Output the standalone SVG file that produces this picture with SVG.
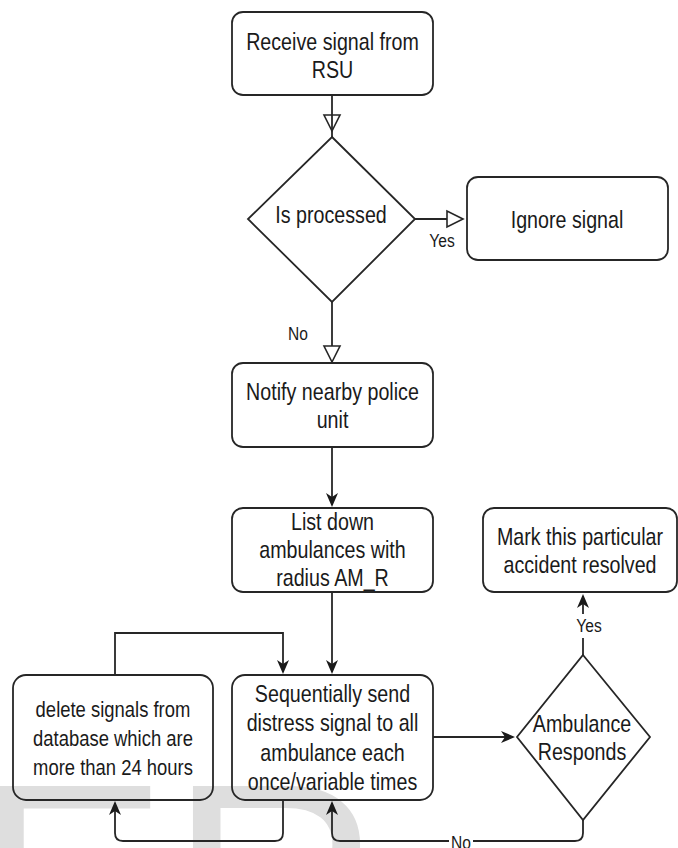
<svg xmlns="http://www.w3.org/2000/svg" width="678" height="848" viewBox="0 0 678 848">
  <style>
    .box { fill: none; stroke: #262626; stroke-width: 1.8; }
    .edge { fill: none; stroke: #262626; stroke-width: 1.8; }
    .t { font-family: "Liberation Sans", Arial, sans-serif; font-size: 24px; fill: #1a1a1a; text-anchor: middle; }
    .s { font-size: 22.5px; }
    .lbl { font-family: "Liberation Sans", Arial, sans-serif; font-size: 19px; fill: #1a1a1a; text-anchor: middle; }
    .wm { font-family: "Liberation Sans", Arial, sans-serif; font-size: 295px; fill: #dedede; }
  </style>
  <defs>
    <!-- filled classic arrowhead, tip sits 2px past the line end -->
    <marker id="arrow" markerUnits="userSpaceOnUse" viewBox="-16 -8 18 16" refX="-2" refY="0" markerWidth="18" markerHeight="16" orient="auto">
      <path d="M0,0 L-14,-6 L-10,0 L-14,6 Z" fill="#1a1a1a"/>
    </marker>
    <!-- open triangle arrowhead -->
    <marker id="open" markerUnits="userSpaceOnUse" viewBox="-18 -10 20 20" refX="0" refY="0" markerWidth="20" markerHeight="20" orient="auto">
      <path d="M0,0 L-16,-8 L-16,8 Z" fill="#fff" stroke="#262626" stroke-width="1.6"/>
    </marker>
    <marker id="openClear" markerUnits="userSpaceOnUse" viewBox="-18 -10 20 20" refX="0" refY="0" markerWidth="20" markerHeight="20" orient="auto">
      <path d="M0,0 L-16,-8 L-16,8 Z" fill="none" stroke="#262626" stroke-width="1.6"/>
    </marker>
  </defs>

  <rect width="678" height="848" fill="#fff"/>

  <!-- background watermark -->
  <text class="wm" x="-28" y="989">ER</text>

  <g id="connectors">
    <path class="edge" d="M332,95 V131" marker-end="url(#openClear)"/>
    <path class="edge" d="M332,131 V137"/>
    <path class="edge" d="M415,219 H463" marker-end="url(#open)"/>
    <path class="edge" d="M332,302 V362" marker-end="url(#open)"/>
    <path class="edge" d="M332,447 V505" marker-end="url(#arrow)"/>
    <path class="edge" d="M332,592 V672" marker-end="url(#arrow)"/>
    <path class="edge" d="M115,675 V633 H283 V672" marker-end="url(#arrow)"/>
    <path class="edge" d="M283,800 V833 Q283,841 275,841 H123 Q115,841 115,833 V803" marker-end="url(#arrow)"/>
    <path class="edge" d="M433,737 H513" marker-end="url(#arrow)"/>
    <path class="edge" d="M583,655 V596" marker-end="url(#arrow)"/>
    <path class="edge" d="M583,820 V833 Q583,841 575,841 H340 Q332,841 332,833 V803" marker-end="url(#arrow)"/>
    <rect x="575" y="614" width="28" height="24" fill="#fff"/>
    <g transform="translate(589,0) scale(0.82,1)"><text class="lbl" x="0" y="632">Yes</text></g>
    <rect x="449" y="833" width="24" height="16" fill="#fff"/>
    <g transform="translate(461,0) scale(0.82,1)"><text class="lbl" x="0" y="849">No</text></g>
    <g transform="translate(442,0) scale(0.82,1)"><text class="lbl" x="0" y="247">Yes</text></g>
    <g transform="translate(298,0) scale(0.82,1)"><text class="lbl" x="0" y="340">No</text></g>
  </g>

  <g id="receive">
    <rect class="box" x="232" y="12" width="201" height="83" rx="11"/>
    <g transform="translate(332.5,0) scale(0.82,1)">
      <text class="t" x="0" y="50">Receive signal from</text>
      <text class="t" x="0" y="78">RSU</text>
    </g>
  </g>

  <g id="is-processed">
    <polygon class="box" points="332,137 415,219 332,302 248,219"/>
    <g transform="translate(331,0) scale(0.82,1)">
      <text class="t" x="0" y="223">Is processed</text>
    </g>
  </g>

  <g id="ignore">
    <rect class="box" x="467" y="177" width="201" height="83" rx="11"/>
    <g transform="translate(567,0) scale(0.82,1)">
      <text class="t" x="0" y="228">Ignore signal</text>
    </g>
  </g>

  <g id="notify">
    <rect class="box" x="232" y="363" width="201" height="84" rx="11"/>
    <g transform="translate(332.5,0) scale(0.82,1)">
      <text class="t" x="0" y="400">Notify nearby police</text>
      <text class="t" x="0" y="428">unit</text>
    </g>
  </g>

  <g id="list">
    <rect class="box" x="232" y="508" width="201" height="84" rx="11"/>
    <g transform="translate(332.5,0) scale(0.82,1)">
      <text class="t" x="0" y="530">List down</text>
      <text class="t" x="0" y="558">ambulances with</text>
      <text class="t" x="0" y="586">radius AM_R</text>
    </g>
  </g>

  <g id="mark-resolved">
    <rect class="box" x="483" y="508" width="194" height="84" rx="11"/>
    <g transform="translate(580,0) scale(0.82,1)">
      <text class="t" x="0" y="545">Mark this particular</text>
      <text class="t" x="0" y="573">accident resolved</text>
    </g>
  </g>

  <g id="delete">
    <rect class="box" x="13" y="675" width="200" height="125" rx="13"/>
    <g transform="translate(113,0) scale(0.82,1)">
      <text class="t s" x="0" y="717">delete signals from</text>
      <text class="t s" x="0" y="746">database which are</text>
      <text class="t s" x="0" y="775">more than 24 hours</text>
    </g>
  </g>

  <g id="send">
    <rect class="box" x="232" y="675" width="201" height="125" rx="13"/>
    <g transform="translate(332.5,0) scale(0.82,1)">
      <text class="t" x="0" y="702">Sequentially send</text>
      <text class="t" x="0" y="731">distress signal to all</text>
      <text class="t" x="0" y="761">ambulance each</text>
      <text class="t" x="0" y="790">once/variable times</text>
    </g>
  </g>

  <g id="ambulance-responds">
    <polygon class="box" points="583,655 650,737 583,820 517,737"/>
    <g transform="translate(582,0) scale(0.82,1)">
      <text class="t" x="0" y="732">Ambulance</text>
      <text class="t" x="0" y="760">Responds</text>
    </g>
  </g>
</svg>
